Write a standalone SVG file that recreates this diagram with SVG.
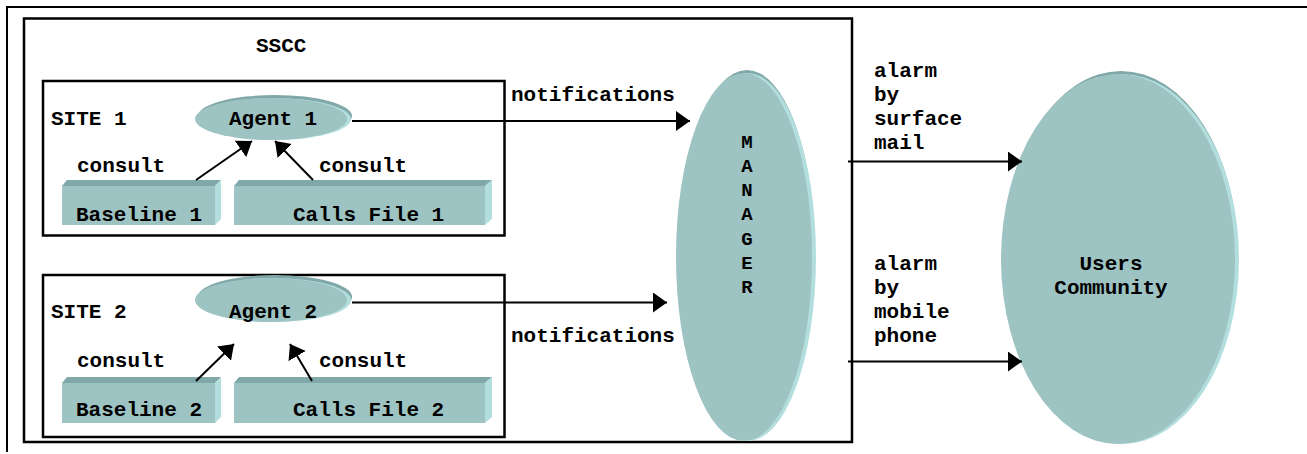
<svg xmlns="http://www.w3.org/2000/svg" width="1307" height="454" viewBox="0 0 1307 454">
<style>
  text { font-family: "Liberation Mono", "Courier New", monospace; font-weight: bold; font-size: 21px; fill: #000; }
  .frame { fill: none; stroke: #000; stroke-width: 2.5; }
  .face { fill: #9EC3C3; }
  .rim { fill: #80A8A8; }
  .lite { fill: #B3DEDE; }
  .conn { fill: none; stroke: #000; stroke-width: 2; marker-end: url(#arr); }
  .mgr { font-size: 19px; text-anchor: middle; }
</style>
<defs>
  <marker id="arr" markerUnits="userSpaceOnUse" markerWidth="15" markerHeight="21" refX="14" refY="10" orient="auto">
    <path d="M0,0 L14,10 L0,20 z" fill="#000"/>
  </marker>
</defs>
<rect width="1307" height="454" fill="#fff"/>
<g id="page-frame">
  <path d="M7,452 L7,7 L1307,7" fill="none" stroke="#000" stroke-width="2"/>
</g>
<g id="sscc">
  <rect x="24" y="18.5" width="828" height="423.5" class="frame"/>
  <text x="256" y="52">SSCC</text>
</g>
<g id="site1">
  <rect x="43" y="81" width="461.5" height="154.5" class="frame"/>
  <text x="51" y="125">SITE 1</text>
</g>
<g id="site2">
  <rect x="43" y="275" width="461.5" height="162" class="frame"/>
  <text x="51" y="318">SITE 2</text>
</g>
<g id="agent1">
  <ellipse cx="275" cy="116" rx="77" ry="21" class="rim"/>
  <ellipse cx="274" cy="119" rx="77" ry="21" class="lite"/>
  <ellipse cx="271" cy="119" rx="76" ry="21" class="face"/>
  <text x="229" y="125">Agent 1</text>
</g>
<g id="agent2">
  <ellipse cx="275" cy="297" rx="77" ry="22" class="rim"/>
  <ellipse cx="274" cy="300" rx="77" ry="22" class="lite"/>
  <ellipse cx="271" cy="300" rx="76" ry="22" class="face"/>
  <text x="229" y="318">Agent 2</text>
</g>
<g id="baseline1">
  <polygon points="62,186 67,180 221,180 215,186" class="rim"/>
  <polygon points="215,186 221,180 221,219 215,225" class="lite"/>
  <rect x="62" y="186" width="153" height="39" class="face"/>
  <text x="76" y="221">Baseline 1</text>
</g>
<g id="callsfile1">
  <polygon points="234,186 239,180 492,180 485,186" class="rim"/>
  <polygon points="485,186 492,180 492,219 485,225" class="lite"/>
  <rect x="234" y="186" width="251" height="39" class="face"/>
  <text x="293" y="221">Calls File 1</text>
</g>
<g id="baseline2">
  <polygon points="62,383 67,377 221,377 215,383" class="rim"/>
  <polygon points="215,383 221,377 221,417 215,423" class="lite"/>
  <rect x="62" y="383" width="153" height="40" class="face"/>
  <text x="76" y="416">Baseline 2</text>
</g>
<g id="callsfile2">
  <polygon points="234,383 239,377 492,377 485,383" class="rim"/>
  <polygon points="485,383 492,377 492,417 485,423" class="lite"/>
  <rect x="234" y="383" width="251" height="40" class="face"/>
  <text x="293" y="416">Calls File 2</text>
</g>
<g id="manager">
  <ellipse cx="747" cy="254" rx="68" ry="184" class="rim"/>
  <ellipse cx="748" cy="257" rx="68" ry="184" class="lite"/>
  <ellipse cx="744" cy="257" rx="68" ry="184" class="face"/>
  <text class="mgr" x="747" y="148">M</text>
  <text class="mgr" x="747" y="172">A</text>
  <text class="mgr" x="747" y="196">N</text>
  <text class="mgr" x="747" y="220">A</text>
  <text class="mgr" x="747" y="245">G</text>
  <text class="mgr" x="747" y="269">E</text>
  <text class="mgr" x="747" y="293">R</text>
</g>
<g id="users">
  <ellipse cx="1121" cy="256" rx="117" ry="185" class="rim"/>
  <ellipse cx="1122" cy="259" rx="117" ry="185" class="lite"/>
  <ellipse cx="1118" cy="259" rx="117" ry="185" class="face"/>
  <text x="1111" y="270" text-anchor="middle">Users</text>
  <text x="1111" y="294" text-anchor="middle">Community</text>
</g>
<g id="connectors">
  <line x1="352" y1="121" x2="690" y2="121" class="conn"/>
  <line x1="352" y1="302.5" x2="667" y2="302.5" class="conn"/>
  <line x1="196" y1="180" x2="252" y2="141" class="conn"/>
  <line x1="313" y1="180" x2="275" y2="141" class="conn"/>
  <line x1="196" y1="381" x2="234" y2="344" class="conn"/>
  <line x1="312" y1="381" x2="290" y2="344" class="conn"/>
  <line x1="848" y1="161.5" x2="1022" y2="161.5" class="conn"/>
  <line x1="848" y1="361.5" x2="1022" y2="361.5" class="conn"/>
  <text x="511" y="101">notifications</text>
  <text x="511" y="342">notifications</text>
  <text x="77" y="172">consult</text>
  <text x="319" y="172">consult</text>
  <text x="77" y="367">consult</text>
  <text x="319" y="367">consult</text>
  <text x="874" y="77">alarm</text>
  <text x="874" y="101">by</text>
  <text x="874" y="125">surface</text>
  <text x="874" y="149">mail</text>
  <text x="874" y="270">alarm</text>
  <text x="874" y="294">by</text>
  <text x="874" y="318">mobile</text>
  <text x="874" y="342">phone</text>
</g>
</svg>
